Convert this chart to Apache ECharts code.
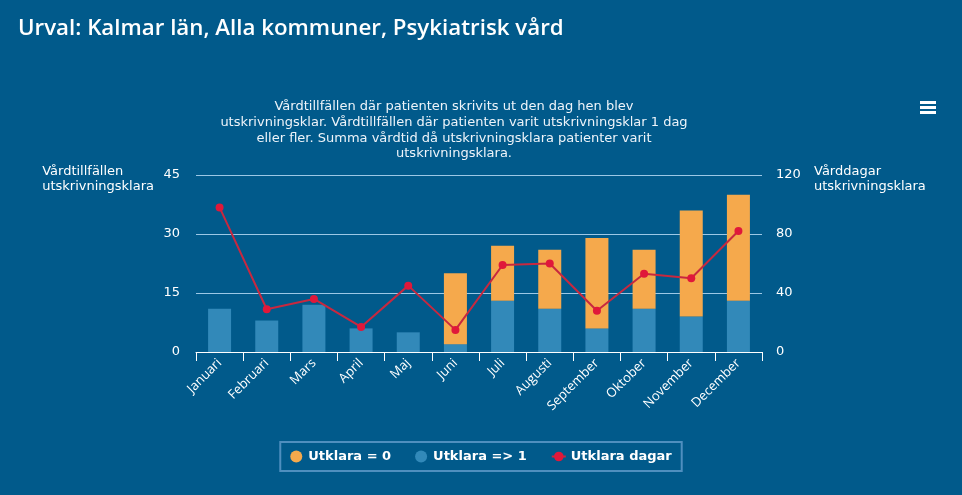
<!DOCTYPE html>
<html><head><meta charset="utf-8">
<script src="https://cdn.jsdelivr.net/npm/echarts@6/dist/echarts.min.js"></script>
<style>html,body{margin:0;padding:0;background:#015a8b;}#c{width:962px;height:495px;}</style>
</head><body><div id="c"></div>
<script>
var categories = ['Januari','Februari','Mars','April','Maj','Juni','Juli','Augusti','September','Oktober','November','December'];
var utklara0 = [0,0,0,0,0,18,14,15,23,15,27,27];
var utklara1 = [11,8,12,6,5,2,13,11,6,11,9,13];
var utklaraDagar = [98,29,36,17,45,15,59,60,28,53,50,82];
var leftTicks = [0,15,30,45];
var rightTicks = [0,40,80,120];

var chart = echarts.init(document.getElementById('c'));
var txt = '#ffffff';
var fontF = 'DejaVu Sans';
chart.setOption({
  backgroundColor: '#015a8b',
  animation: false,
  title: [{
    text: 'Urval: Kalmar län, Alla kommuner, Psykiatrisk vård',
    left: 13, top: 13,
    textStyle: {color: '#fff', fontFamily: 'Open Sans', fontWeight: 600, fontSize: 22.3}
  },{
    text: 'Vårdtillfällen där patienten skrivits ut den dag hen blev\nutskrivningsklar. Vårdtillfällen där patienten varit utskrivningsklar 1 dag\neller fler. Summa vårdtid då utskrivningsklara patienter varit\nutskrivningsklara.',
    left: 449, top: 94, textAlign: 'center',
    textStyle: {color: '#eef4fa', fontFamily: fontF, fontWeight: 'normal', fontSize: 13, lineHeight: 15.7, align: 'center'}
  }],
  graphic: [
    {type: 'text', right: 808, top: 164, style: {text: 'Vårdtillfällen\nutskrivningsklara', fill: '#fff', font: '13px "DejaVu Sans"', align: 'right', lineHeight: 15}},
    {type: 'text', left: 814, top: 164, style: {text: 'Vårddagar\nutskrivningsklara', fill: '#fff', font: '13px "DejaVu Sans"', lineHeight: 15}},
    {type: 'rect', left: 920, top: 101, shape: {width: 16, height: 3}, style: {fill: '#fff'}},
    {type: 'rect', left: 920, top: 106, shape: {width: 16, height: 3}, style: {fill: '#fff'}},
    {type: 'rect', left: 920, top: 111, shape: {width: 16, height: 3}, style: {fill: '#fff'}}
  ],
  legend: {
    bottom: 24, left: 'center',
    borderColor: '#4f8fbf', borderWidth: 2, padding: [8, 10],
    itemGap: 24, itemWidth: 14, itemHeight: 12,
    textStyle: {color: '#fff', fontFamily: fontF, fontWeight: 'bold', fontSize: 13},
    data: [
      {name: 'Utklara = 0', icon: 'circle'},
      {name: 'Utklara => 1', icon: 'circle'},
      {name: 'Utklara dagar'}
    ]
  },
  grid: {left: 196, right: 200, top: 175, bottom: 143, containLabel: false},
  xAxis: {
    type: 'category', data: categories, boundaryGap: true,
    axisLine: {lineStyle: {color: '#fff', width: 1}},
    axisTick: {show: true, length: 9, lineStyle: {color: '#fff'}},
    axisLabel: {rotate: 45, color: txt, fontFamily: 'Open Sans', fontSize: 13, margin: 9}
  },
  yAxis: [{
    type: 'value', min: 0, max: 45, interval: 15,
    axisLine: {show: false}, axisTick: {show: false},
    splitLine: {lineStyle: {color: '#9cc8e6', width: 1}},
    axisLabel: {color: txt, fontFamily: fontF, fontSize: 13, margin: 16}
  },{
    type: 'value', min: 0, max: 120, interval: 40,
    axisLine: {show: false}, axisTick: {show: false},
    splitLine: {show: false},
    axisLabel: {color: txt, fontFamily: fontF, fontSize: 13, margin: 14}
  }],
  series: [{
    name: 'Utklara => 1', type: 'bar', stack: 'a', data: utklara1, barWidth: 23,
    itemStyle: {color: '#3289b9'}
  },{
    name: 'Utklara = 0', type: 'bar', stack: 'a', data: utklara0, barWidth: 23,
    itemStyle: {color: '#f5a94c'}
  },{
    name: 'Utklara dagar', type: 'line', yAxisIndex: 1, data: utklaraDagar,
    symbol: 'circle', symbolSize: 8,
    lineStyle: {color: '#c8283f', width: 2},
    itemStyle: {color: '#e0183a'}, z: 5
  }]
});
</script></body></html>
